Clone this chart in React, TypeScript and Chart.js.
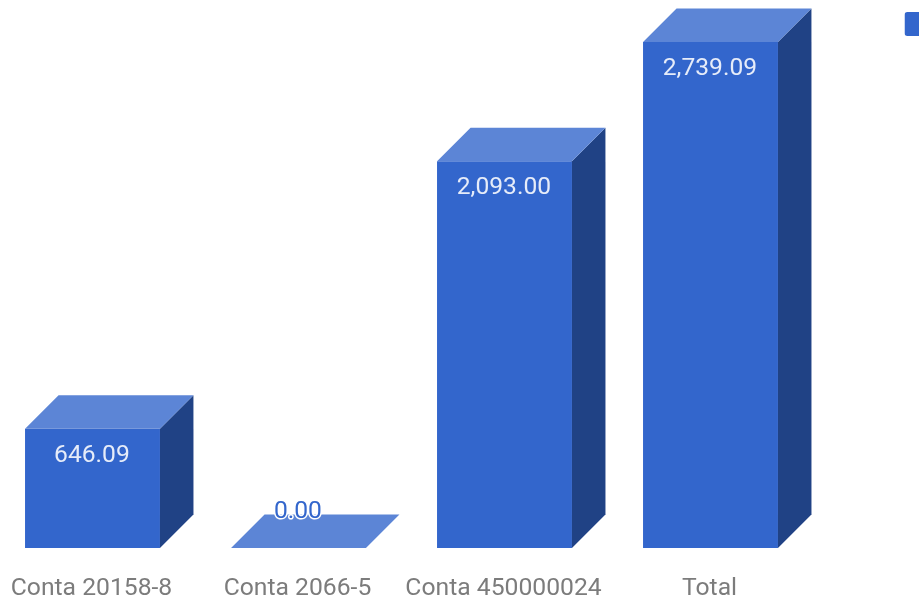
import React, { useEffect, useRef } from "react";
import { Chart, registerables } from "chart.js";

Chart.register(...registerables);

const categories = ["Conta 20158-8", "Conta 2066-5", "Conta 450000024", "Total"];
const seriesLabel = "Saldo";
const values = [646.09, 0, 2093.0, 2739.09];
const valueLabels = ["646.09", "0.00", "2,093.00", "2,739.09"];

const FRONT = "#3366cc";
const TOP = "#5c85d6";
const SIDE = "#204285";
const DEPTH = 33.5;
const OFFSET_X = 40;

const poly = (ctx: CanvasRenderingContext2D, pts: number[][], fill: string) => {
  ctx.beginPath();
  pts.forEach((p, i) => (i ? ctx.lineTo(p[0], p[1]) : ctx.moveTo(p[0], p[1])));
  ctx.closePath();
  ctx.fillStyle = fill;
  ctx.fill();
};

const box3d = {
  id: "box3d",
  beforeDraw(chart: any) {
    const lg = chart.legend;
    if (lg) {
      lg.left = 904.5 + OFFSET_X;
      lg.right = lg.left + 90;
      lg.top = 12;
      lg.bottom = 40;
    }
  },
  afterDatasetsDraw(chart: any) {
    const ctx: CanvasRenderingContext2D = chart.ctx;
    const meta = chart.getDatasetMeta(0);
    ctx.save();
    meta.data.forEach((bar: any, i: number) => {
      const { x, y, base, width } = bar.getProps(["x", "y", "base", "width"], true);
      const l = x - width / 2;
      const r = x + width / 2;
      if (base - y > 0.5) {
        poly(ctx, [[r, y], [r + DEPTH, y - DEPTH], [r + DEPTH, base - DEPTH], [r, base]], SIDE);
      }
      poly(ctx, [[l, y], [l + DEPTH, y - DEPTH], [r + DEPTH, y - DEPTH], [r, y]], TOP);
      ctx.font = "24.6px Roboto";
      ctx.textAlign = "center";
      ctx.textBaseline = "middle";
      const tx = x - 0.6;
      if (base - y > 40) {
        ctx.fillStyle = "#e6ecf9";
        ctx.fillText(valueLabels[i], tx, y + 27);
      } else {
        const ty = y - 36;
        ctx.lineWidth = 3;
        ctx.lineJoin = "round";
        ctx.strokeStyle = "#ffffff";
        ctx.strokeText(valueLabels[i], tx, ty);
        ctx.fillStyle = FRONT;
        ctx.fillText(valueLabels[i], tx, ty);
      }
    });
    ctx.restore();
  },
};

export default function App() {
  const ref = useRef<HTMLCanvasElement>(null);
  useEffect(() => {
    const chart = new Chart(ref.current!, {
      type: "bar",
      plugins: [box3d],
      data: {
        labels: categories,
        datasets: [
          {
            label: seriesLabel,
            data: values,
            backgroundColor: FRONT,
            barPercentage: 1,
            categoryPercentage: 0.655,
          },
        ],
      },
      options: {
        responsive: false,
        animation: false,
        layout: { padding: { left: 29.5, right: 146.5, top: 30.7, bottom: 0 } },
        plugins: {
          tooltip: { enabled: false },
          legend: {
            position: "chartArea" as any,
            align: "start",
            onClick: () => {},
            labels: {
              boxWidth: 24,
              boxHeight: 24,
              padding: 0,
              useBorderRadius: true,
              borderRadius: 3,
              color: "#757575",
              font: { family: "Roboto", size: 20 },
            },
          },
        },
        scales: {
          x: {
            grid: { display: false },
            border: { display: false },
            afterFit: (s: any) => {
              s.height = 53;
            },
            ticks: {
              autoSkip: false,
              maxRotation: 0,
              minRotation: 0,
              padding: 18,
              labelOffset: -1,
              color: "#7c7c7c",
              font: { family: "Roboto", size: 24.7 },
            },
          },
          y: { display: false, min: 0, max: 2800 },
        },
      },
    });
    return () => chart.destroy();
  }, []);
  return (
    <div style={{ position: "fixed", left: 0, top: 0, width: 919, height: 601, overflow: "hidden", background: "#fff" }}>
      <canvas
        ref={ref}
        width={1000}
        height={601}
        style={{ position: "absolute", left: -OFFSET_X, top: 0, filter: "blur(0.6px)" }}
      />
    </div>
  );
}
